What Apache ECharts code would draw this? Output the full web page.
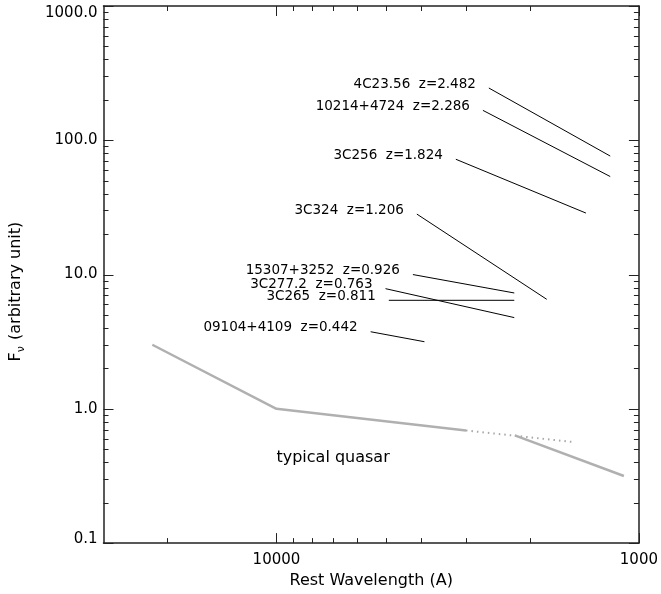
<!DOCTYPE html>
<html>
<head>
<meta charset="utf-8">
<script src="https://cdn.jsdelivr.net/npm/echarts@6/dist/echarts.min.js"></script>
<style>
  html, body { margin: 0; padding: 0; background: #fff; }
  #chart { width: 661px; height: 594px; }
</style>
</head>
<body>
<div id="chart"></div>
<script>
// ---- data ----
const objectNames = [
  '4C23.56  z=2.482',
  '10214+4724  z=2.286',
  '3C256  z=1.824',
  '3C324  z=1.206',
  '15307+3252  z=0.926',
  '3C277.2  z=0.763',
  '3C265  z=0.811',
  '09104+4109  z=0.442'
];
const startWave = [2594, 2694, 3199, 4098, 4203, 5001, 4898, 5497];
const startFlux = [245, 167, 72.2, 28.2, 10.0, 7.85, 6.43, 3.75];
const endWave   = [1200, 1200, 1400, 1796, 2207, 2207, 2207, 3906];
const endFlux   = [76.3, 53.7, 28.7, 6.54, 7.29, 4.78, 6.43, 3.16];

// typical quasar template
const quasarWave = [22000, 10000, 3000];
const quasarFlux = [3.0, 1.0, 0.69];
const quasarDotWave = [3000, 1500];
const quasarDotFlux = [0.69, 0.564];
const quasarUvWave = [2200, 1100];
const quasarUvFlux = [0.635, 0.316];
const quasarLabel = 'typical quasar';
const quasarLabelAt = [10000, 0.43];

// axes
const xMin = 1000, xMax = 30000;
const yMin = 0.1, yMax = 1000;
const xMajorTicks = [10000, 1000];
const xMinorTicks = [20000, 9000, 8000, 7000, 6000, 5000, 4000, 3000, 2000];
const yMajorTicks = [0.1, 1, 10, 100, 1000];
const yMinorTicks = [0.2,0.3,0.4,0.5,0.6,0.7,0.8,0.9, 2,3,4,5,6,7,8,9, 20,30,40,50,60,70,80,90, 200,300,400,500,600,700,800,900];

const FONT = 'DejaVu Sans';
const TXT = '#000';
const AXC = '#222';

function tickSeries(values, isX, len) {
  return {
    type: 'custom',
    silent: true,
    clip: false,
    z: 5,
    data: values.map(v => isX ? [v, 1] : [10000, v]),
    renderItem: function (params, api) {
      const cs = params.coordSys;
      const style = { stroke: AXC, lineWidth: 1 };
      if (isX) {
        const px = Math.round(api.coord([api.value(0), 1])[0]) + 0.5;
        const yb = cs.y + cs.height, yt = cs.y;
        return { type: 'group', children: [
          { type: 'line', shape: { x1: px, y1: yb, x2: px, y2: yb - len }, style: style },
          { type: 'line', shape: { x1: px, y1: yt, x2: px, y2: yt + len }, style: style }
        ]};
      } else {
        const py = Math.round(api.coord([10000, api.value(1)])[1]) + 0.5;
        const xl = cs.x, xr = cs.x + cs.width;
        return { type: 'group', children: [
          { type: 'line', shape: { x1: xl, y1: py, x2: xl + len, y2: py }, style: style },
          { type: 'line', shape: { x1: xr, y1: py, x2: xr - len, y2: py }, style: style }
        ]};
      }
    }
  };
}

const series = [];
objectNames.forEach((name, i) => {
  series.push({
    type: 'line',
    name: name,
    symbol: 'circle',
    symbolSize: 0,
    showSymbol: true,
    silent: true,
    lineStyle: { color: '#000', width: 1 },
    itemStyle: { color: '#000' },
    data: [
      { value: [startWave[i], startFlux[i]],
        label: { show: true, position: 'left', distance: 13, offset: [0, -4],
                 formatter: name, color: TXT, fontFamily: FONT, fontSize: 13.5 } },
      { value: [endWave[i], endFlux[i]] }
    ]
  });
});

series.push({
  type: 'line', symbol: 'none', silent: true,
  lineStyle: { color: '#b0b0b0', width: 2.5 },
  data: quasarWave.map((w, i) => [w, quasarFlux[i]])
});
series.push({
  type: 'line', symbol: 'none', silent: true,
  lineStyle: { color: '#a8a8a8', width: 2, type: [1.5, 4] },
  data: quasarDotWave.map((w, i) => [w, quasarDotFlux[i]])
});
series.push({
  type: 'line', symbol: 'none', silent: true,
  lineStyle: { color: '#b0b0b0', width: 2.5 },
  data: quasarUvWave.map((w, i) => [w, quasarUvFlux[i]])
});
series.push({
  type: 'scatter', symbolSize: 0, silent: true,
  itemStyle: { opacity: 1, color: '#000' },
  data: [{ value: quasarLabelAt,
    label: { show: true, position: 'right', distance: 0, formatter: quasarLabel,
             color: TXT, fontFamily: FONT, fontSize: 16 } }]
});

series.push(tickSeries(xMajorTicks, true, 10));
series.push(tickSeries(xMinorTicks, true, 5));
series.push(tickSeries(yMajorTicks, false, 10));
series.push(tickSeries(yMinorTicks, false, 5));

const frameAxisLine = { show: true, onZero: false, lineStyle: { color: AXC, width: 1.5 } };

const chart = echarts.init(document.getElementById('chart'), null, { renderer: 'canvas' });
chart.setOption({
  animation: false,
  backgroundColor: '#fff',
  grid: { left: 100, right: 20, top: 6, bottom: 48, containLabel: false },
  xAxis: [{
    type: 'log', logBase: 10, min: xMin, max: xMax, inverse: true,
    name: 'Rest Wavelength (A)', nameLocation: 'middle', nameGap: 28,
    nameTextStyle: { color: TXT, fontFamily: FONT, fontSize: 16 },
    axisLine: frameAxisLine,
    axisTick: { show: false },
    splitLine: { show: false },
    axisLabel: {
      color: TXT, fontFamily: FONT, fontSize: 15, margin: 10,
      showMinLabel: true, showMaxLabel: true,
      formatter: function (v) {
        const r = Math.round(v);
        return (xMajorTicks.indexOf(r) >= 0) ? String(r) : '';
      }
    }
  }, {
    type: 'log', logBase: 10, min: xMin, max: xMax, inverse: true, position: 'top',
    axisLine: frameAxisLine, axisTick: { show: false }, axisLabel: { show: false },
    splitLine: { show: false }
  }],
  yAxis: [{
    type: 'log', logBase: 10, min: yMin, max: yMax,
    name: '{a|F}{b|ν} (arbitrary unit)', nameLocation: 'middle', nameGap: 77, nameRotate: 90,
    nameTextStyle: { color: TXT, fontFamily: FONT, fontSize: 16, padding: [0, 34, 0, 0],
      rich: { a: { fontFamily: FONT, fontSize: 16, color: TXT },
              b: { fontFamily: FONT, fontSize: 11, color: TXT, padding: [10, 1, 0, 0] } } },
    axisLine: frameAxisLine,
    axisTick: { show: false },
    splitLine: { show: false },
    axisLabel: {
      color: TXT, fontFamily: FONT, fontSize: 15, margin: 6,
      formatter: function (v) {
        const s = Number(v).toFixed(1);
        if (Math.abs(v - yMax) < 1e-6) return '{top|' + s + '}';
        if (Math.abs(v - yMin) < 1e-9) return '{bot|' + s + '}';
        return s;
      },
      rich: {
        top: { fontFamily: FONT, fontSize: 15, color: TXT, padding: [14, 0, 0, 0] },
        bot: { fontFamily: FONT, fontSize: 15, color: TXT, padding: [0, 0, 8, 0] }
      }
    }
  }, {
    type: 'log', logBase: 10, min: yMin, max: yMax, position: 'right',
    axisLine: frameAxisLine, axisTick: { show: false }, axisLabel: { show: false },
    splitLine: { show: false }
  }],
  series: series
});
</script>
</body>
</html>
